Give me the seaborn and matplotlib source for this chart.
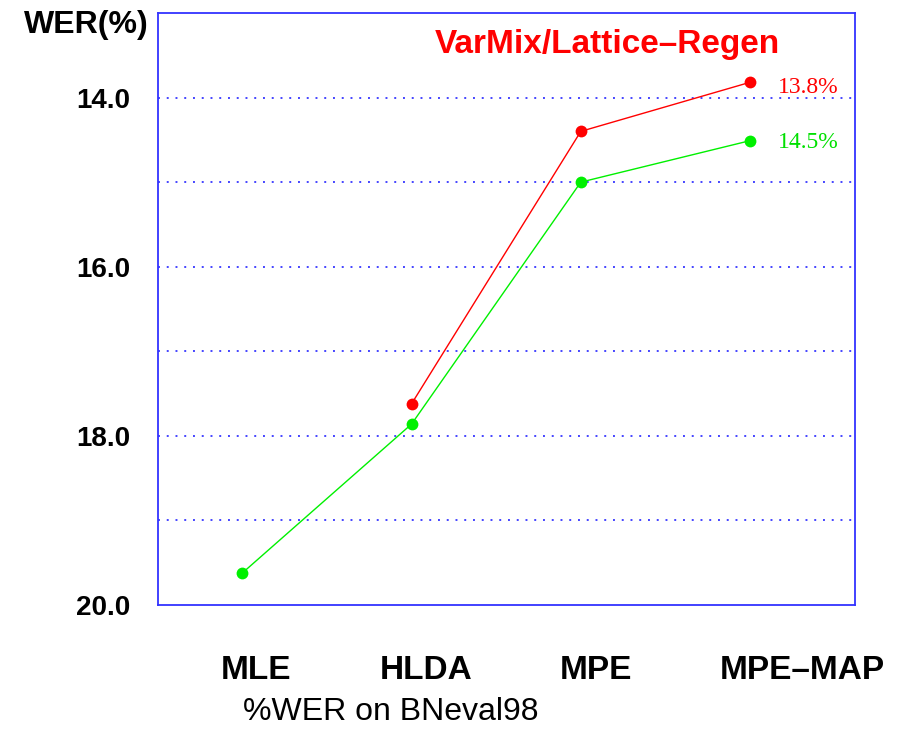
import numpy as np
import pandas as pd
import seaborn as sns
import matplotlib.pyplot as plt
from matplotlib.transforms import ScaledTranslation

# data
methods = ["MLE", "HLDA", "MPE", "MPE\u2013MAP"]
wer_regen = [np.nan, 17.62, 14.40, 13.82]
wer_base = [19.62, 17.86, 15.00, 14.51]
end_labels = ["13.8%", "14.5%"]

sns.set_style("white")
plt.rcParams["font.family"] = ["Liberation Sans", "DejaVu Sans"]
plt.rcParams["text.color"] = "black"
plt.rcParams["xtick.color"] = "black"
plt.rcParams["ytick.color"] = "black"

fig = plt.figure(figsize=(8.97, 7.41), dpi=100)
ax = fig.add_axes([0.176, 0.1835, 0.777, 0.799])

pos = np.arange(len(methods))
df = pd.DataFrame({
    "pos": np.concatenate([pos, pos]),
    "wer": wer_regen + wer_base,
    "system": ["regen"] * len(methods) + ["base"] * len(methods),
})
palette = {"regen": "#ff0000", "base": "#00f000"}

sns.lineplot(data=df.dropna(), x="pos", y="wer", hue="system", palette=palette,
             marker="o", markersize=8.5, markeredgewidth=0, linewidth=1.0,
             legend=False, ax=ax, zorder=3)

ax.set_ylim(20, 13)
ax.set_xlim(-0.5, 3.62)
ax.set_yticks([14, 16, 18, 20])
ax.set_yticklabels([f"{v:.1f}" for v in [14, 16, 18, 20]],
                   fontsize=20, fontweight="bold")
ax.set_xticks(pos)
ax.set_xticklabels(methods, fontsize=24, fontweight="bold")
ax.tick_params(axis="y", length=0, pad=20)
ax.tick_params(axis="x", length=0, pad=36)
ax.set_xlabel("")
ax.set_ylabel("")

# the x labels sit a bit right of their points in the original
for lab, dx in zip(ax.get_xticklabels(), [14, 15, 15, 52]):
    lab.set_transform(lab.get_transform() + ScaledTranslation(dx / 100, 0, fig.dpi_scale_trans))

for g in [14, 15, 16, 17, 18, 19]:
    ax.axhline(g, color="#4444ff", linestyle=(0, (1, 3.5)), linewidth=1.4, zorder=1)

for side in ax.spines.values():
    side.set_color("#3333ff")
    side.set_linewidth(1.3)

ax.annotate(end_labels[0], (3, wer_regen[-1]), xytext=(20, -4), textcoords="offset points",
            color="#ff0000", fontsize=17, family="Liberation Serif", va="center", ha="left")
ax.annotate(end_labels[1], (3, wer_base[-1]), xytext=(20, -1.5), textcoords="offset points",
            color="#00e000", fontsize=17, family="Liberation Serif", va="center", ha="left")

fig.text(607 / 897, 1 - 45 / 741, "VarMix/Lattice\u2013Regen", color="#ff0000",
         fontsize=24, fontweight="bold", ha="center", va="center")
fig.text(86 / 897, 1 - 25 / 741, "WER(%)", fontsize=23, fontweight="bold",
         ha="center", va="center")
fig.text(391 / 897, 1 - 712 / 741, "%WER on BNeval98", fontsize=23,
         ha="center", va="center")

fig.savefig("out.png", dpi=100)
